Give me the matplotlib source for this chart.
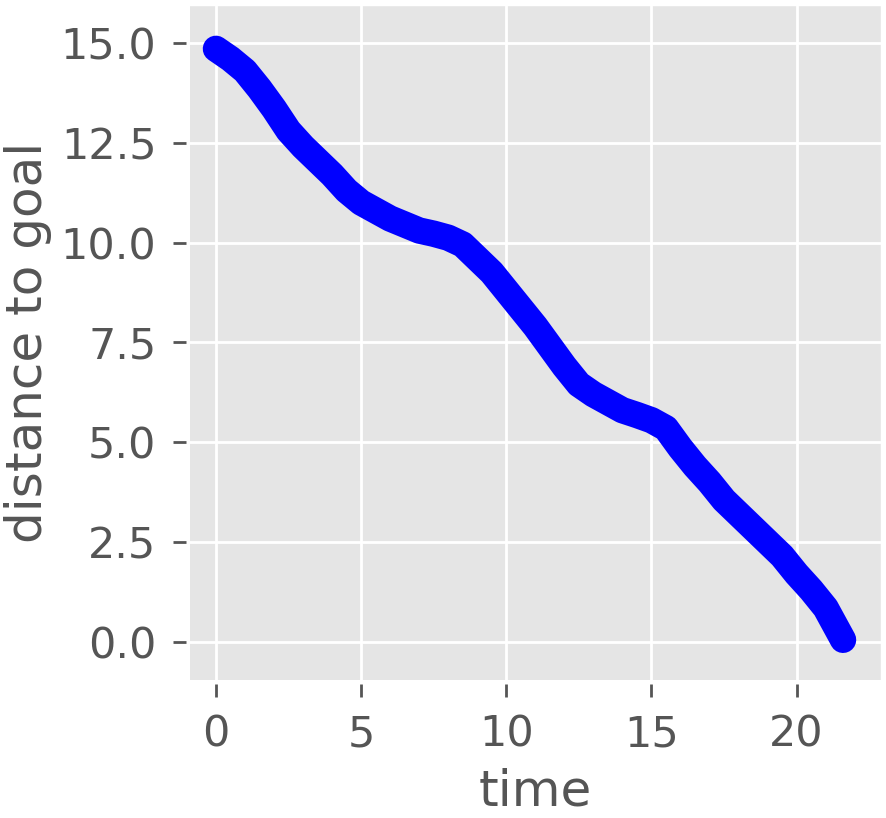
import numpy as np
import matplotlib.pyplot as plt

plt.style.use('ggplot')

time = [0, 0.5, 1, 1.5, 2, 2.5, 3, 3.5, 4, 4.5, 5, 5.5, 6, 6.5, 7, 7.5, 8, 8.5,
        9, 9.5, 10, 10.5, 11, 11.5, 12, 12.5, 13, 13.5, 14, 14.5, 15, 15.5,
        16, 16.5, 17, 17.5, 18, 18.5, 19, 19.5, 20, 20.5, 21, 21.3, 21.6]
distance = [14.85, 14.6, 14.3, 13.85, 13.35, 12.8, 12.4, 12.05, 11.7, 11.3,
            11.0, 10.8, 10.6, 10.45, 10.3, 10.22, 10.12, 9.95, 9.6, 9.25,
            8.8, 8.35, 7.9, 7.4, 6.9, 6.45, 6.2, 6.0, 5.8, 5.68, 5.55, 5.35,
            4.85, 4.4, 4.0, 3.55, 3.2, 2.85, 2.5, 2.15, 1.7, 1.3, 0.85, 0.45, 0.05]

fig = plt.figure(figsize=(8.87, 8.18), dpi=100)
ax = fig.add_axes([0.214, 0.169, 0.779, 0.825])

ax.plot(time, distance, color='blue', linewidth=19, solid_capstyle='round',
        solid_joinstyle='round')

ax.set_xlim(-0.9, 22.9)
ax.set_ylim(-0.95, 15.95)
ax.set_xticks([0, 5, 10, 15, 20])
ax.set_yticks([0, 2.5, 5, 7.5, 10, 12.5, 15])
ax.set_yticklabels(['0.0', '2.5', '5.0', '7.5', '10.0', '12.5', '15.0'])

# ticks sit a bit away from the grey panel
for side in ['left', 'bottom']:
    ax.spines[side].set_position(('outward', 3))
    ax.spines[side].set_visible(False)

ax.tick_params(labelsize=31, length=9.5, width=2, pad=11.5)
ax.grid(True, color='white', linewidth=2)
ax.set_xlabel('time', fontsize=36, color='#555555', labelpad=9)
ax.set_ylabel('distance to goal', fontsize=36, color='#555555', labelpad=6)

fig.savefig('out.png', dpi=100)
